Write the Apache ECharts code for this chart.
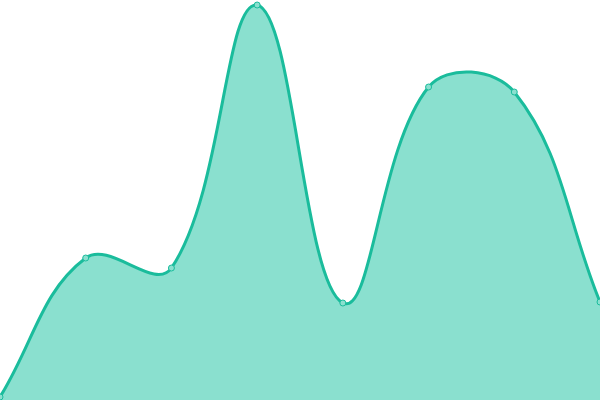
<!DOCTYPE html>
<html><head><meta charset="utf-8">
<script src="https://cdn.jsdelivr.net/npm/echarts@6/dist/echarts.min.js"></script>
<style>html,body{margin:0;padding:0;background:#fff}#c{width:600px;height:400px}</style>
</head><body><div id="c"></div>
<script>
const categories = ['1','2','3','4','5','6','7','8'];
const values = [3, 142, 132, 395, 97, 313, 308, 98];
const LINE = '#1abc9c', FILL = '#8ae0cf', TENSION = 0.4;
const chart = echarts.init(document.getElementById('c'));

function renderItem(params, api) {
  const i = params.dataIndex;
  const p = api.coord([i, values[i]]);
  const circle = {
    type: 'circle', z2: 10,
    shape: {cx: p[0], cy: p[1], r: 3},
    style: {fill: FILL, stroke: LINE, lineWidth: 1}
  };
  if (i !== 0) return circle;
  const pts = values.map((v, k) => api.coord([k, v]));
  const top = api.coord([0, 400])[1], bottom = api.coord([0, 0])[1];
  const left = pts[0][0], right = pts[pts.length - 1][0];
  const clampX = x => Math.max(left, Math.min(right, x));
  const clampY = y => Math.max(top, Math.min(bottom, y));
  // Chart.js-style spline control points
  const cps = pts.map((cur, k) => {
    const prev = pts[k - 1] || cur, next = pts[k + 1] || cur;
    const d01 = Math.hypot(cur[0] - prev[0], cur[1] - prev[1]);
    const d12 = Math.hypot(next[0] - cur[0], next[1] - cur[1]);
    let s01 = d01 / (d01 + d12), s12 = d12 / (d01 + d12);
    if (isNaN(s01)) s01 = 0; if (isNaN(s12)) s12 = 0;
    const fa = TENSION * s01, fb = TENSION * s12;
    return {
      prev: [clampX(cur[0] - fa * (next[0] - prev[0])), clampY(cur[1] - fa * (next[1] - prev[1]))],
      next: [clampX(cur[0] + fb * (next[0] - prev[0])), clampY(cur[1] + fb * (next[1] - prev[1]))]
    };
  });
  let d = 'M' + pts[0][0] + ' ' + pts[0][1];
  for (let k = 1; k < pts.length; k++) {
    const a = cps[k - 1].next, b = cps[k].prev;
    d += ' C' + a[0] + ' ' + a[1] + ' ' + b[0] + ' ' + b[1] + ' ' + pts[k][0] + ' ' + pts[k][1];
  }
  const areaD = d + ' L' + right + ' ' + bottom + ' L' + left + ' ' + bottom + ' Z';
  return {
    type: 'group',
    children: [
      {type: 'path', shape: {pathData: areaD}, style: {fill: FILL, stroke: null}},
      {type: 'path', shape: {pathData: d}, style: {fill: null, stroke: LINE, lineWidth: 3}},
      circle
    ]
  };
}

chart.setOption({
  animation: false,
  grid: {left: 0, right: 0, top: 0, bottom: 0},
  xAxis: {type: 'category', data: categories, boundaryGap: false, show: false},
  yAxis: {type: 'value', min: 0, max: 400, show: false},
  series: [{
    type: 'custom',
    renderItem: renderItem,
    clip: false,
    data: values.map((v, k) => [k, v])
  }]
});
</script></body></html>
